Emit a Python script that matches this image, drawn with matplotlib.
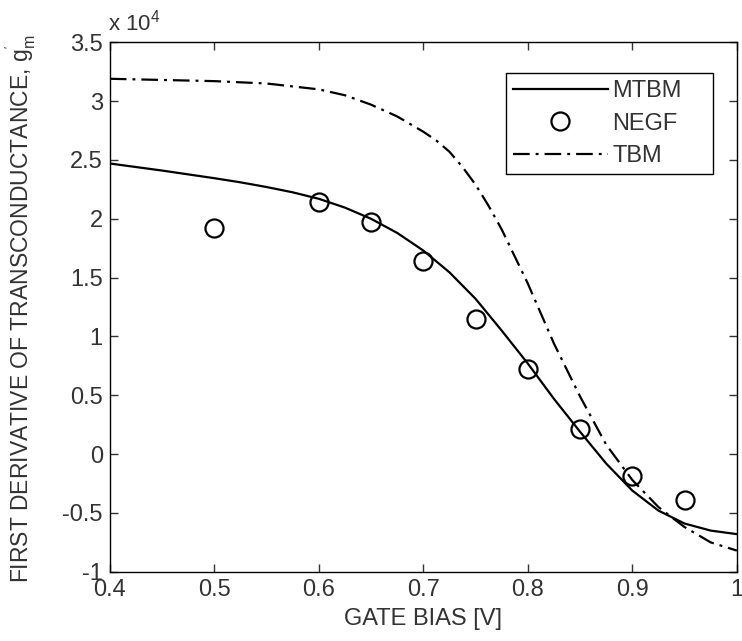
import numpy as np
import matplotlib
matplotlib.use('Agg')
import matplotlib.pyplot as plt
from matplotlib.ticker import FuncFormatter

plt.rcParams['font.family'] = ['Liberation Sans', 'DejaVu Sans']
plt.rcParams['mathtext.fontset'] = 'custom'
plt.rcParams['mathtext.rm'] = 'Liberation Sans'

# modified tight-binding model
vg_mtbm = [0.40, 0.45, 0.50, 0.525, 0.55, 0.575, 0.60, 0.625, 0.65, 0.675,
           0.70, 0.725, 0.75, 0.775, 0.80, 0.825, 0.85, 0.875, 0.90, 0.925,
           0.95, 0.975, 1.00]
gm_mtbm = [24700, 24100, 23450, 23100, 22700, 22250, 21700, 20950, 20000,
           18800, 17300, 15450, 13200, 10500, 7700, 4700, 1900, -800, -3100,
           -4800, -5900, -6500, -6800]

# NEGF reference points
vg_negf = [0.50, 0.60, 0.65, 0.70, 0.75, 0.80, 0.85, 0.90, 0.95]
gm_negf = [19200, 21400, 19700, 16400, 11500, 7200, 2100, -1900, -3900]

# plain tight-binding model
vg_tbm = [0.40, 0.45, 0.50, 0.55, 0.60, 0.625, 0.65, 0.675, 0.70, 0.7125,
          0.725, 0.7375, 0.75, 0.7625, 0.775, 0.80, 0.825, 0.85, 0.875, 0.90,
          0.925, 0.95, 0.975, 1.00]
gm_tbm = [31900, 31800, 31700, 31500, 31000, 30500, 29700, 28700, 27400,
          26650, 25700, 24400, 22900, 21100, 19100, 14500, 9400, 4900, 800,
          -2200, -4500, -6200, -7500, -8200]

fs = 17
txt = '#333333'

fig = plt.figure(figsize=(7.42, 6.41), dpi=100)
ax = fig.add_axes([0.148, 0.108, 0.845, 0.826])

ax.plot(vg_mtbm, gm_mtbm, 'k-', lw=1.6, label='MTBM')
ax.plot(vg_negf, gm_negf, 'ko', ms=13, mfc='none', mew=1.6, label='NEGF')
ax.plot(vg_tbm, gm_tbm, 'k', lw=1.6, dashes=(7.5, 2.7, 1.3, 2.7), label='TBM')

ax.set_xlim(0.4, 1.0)
ax.set_ylim(-10000, 35000)
ax.set_xticks(np.arange(0.4, 1.01, 0.1))
ax.set_yticks(np.arange(-10000, 35001, 5000))
ax.xaxis.set_major_formatter(FuncFormatter(lambda v, p: '%g' % round(v, 2)))
ax.yaxis.set_major_formatter(FuncFormatter(lambda v, p: '%g' % (v / 1e4)))
ax.tick_params(direction='in', top=True, right=True, length=6, width=1,
               labelsize=fs, pad=5, colors=txt, labelcolor=txt)
for s in ax.spines.values():
    s.set_linewidth(1.0)

ax.text(-0.003, 1.012, r'x 10$^{4}$', transform=ax.transAxes, fontsize=16,
        color=txt, ha='left', va='bottom')

ax.set_xlabel('GATE BIAS [V]', fontsize=fs, color=txt)
ax.xaxis.set_label_coords(0.5, -0.068)
ax.set_ylabel(r"FIRST DERIVATIVE OF TRANSCONDUCTANCE, g$_{\mathregular{m}}^{\mathregular{'}}$",
              fontsize=16.5, color=txt)
ax.yaxis.set_label_coords(-0.115, 0.497)

leg = ax.legend(loc='upper left', bbox_to_anchor=(0.632, 0.0, 0.330, 0.942),
                mode='expand', fontsize=fs, fancybox=False, edgecolor='black',
                framealpha=1, handlelength=4.0, labelspacing=0.45,
                borderpad=0.3, handletextpad=0.2, borderaxespad=0)
leg.get_frame().set_linewidth(1.0)
for t in leg.get_texts():
    t.set_color(txt)

fig.savefig('out.png', dpi=100)
